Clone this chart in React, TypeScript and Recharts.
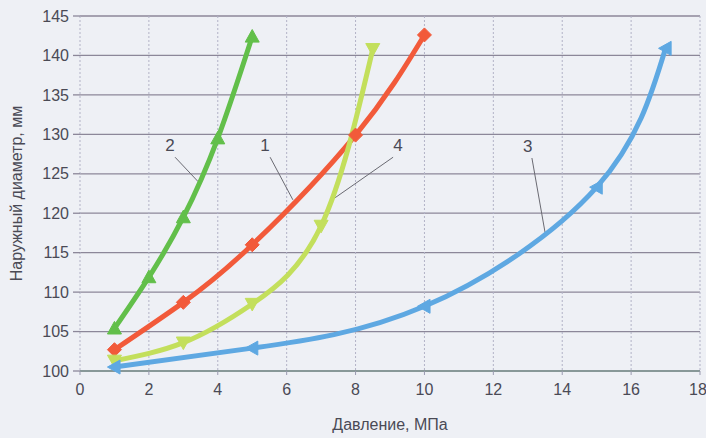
import React from 'react';
import { LineChart, Line, XAxis, YAxis, CartesianGrid, ReferenceLine, ReferenceDot, Label } from 'recharts';

const xTicks = [0, 2, 4, 6, 8, 10, 12, 14, 16, 18];
const yTicks = [100, 105, 110, 115, 120, 125, 130, 135, 140, 145];

const curve1X = [1, 3, 5, 8, 10];
const curve1Y = [102.7, 108.7, 116, 129.9, 142.6];
const curve2X = [1, 2, 3, 4, 5];
const curve2Y = [105.4, 111.9, 119.5, 129.5, 142.4];
const curve3X = [1, 5, 10, 15, 17];
const curve3Y = [100.5, 102.9, 108.2, 123.3, 140.9];
const curve4X = [1, 3, 5, 7, 8.5];
const curve4Y = [101.3, 103.6, 108.5, 118.4, 140.8];

const curveNames = ['1', '2', '3', '4'];
const labelX = [5.37, 2.61, 13.0, 9.23];
const labelY = [128.7, 128.7, 128.5, 128.7];
const leaderFromX = [5.52, 2.76, 13.12, 9.09];
const leaderFromY = [127.1, 127.1, 127.0, 127.1];
const leaderToX = [6.18, 3.43, 13.5, 7.32];
const leaderToY = [121.7, 124.0, 117.6, 121.7];

const zip = (xs: number[], ys: number[]) => xs.map((x, i) => ({ x, y: ys[i] }));

const FONT = '"Liberation Sans Narrow", "Liberation Sans", Arial, sans-serif';

const makeDot = (shape: string, color: string) => (props: any) => {
  const { cx, cy, index } = props;
  if (cx == null || cy == null) return <g key={index} />;
  const s = 7;
  let pts = '';
  if (shape === 'up') pts = `${cx},${cy - s} ${cx + s},${cy + s * 0.8} ${cx - s},${cy + s * 0.8}`;
  else if (shape === 'down') pts = `${cx - s},${cy - s * 0.8} ${cx + s},${cy - s * 0.8} ${cx},${cy + s}`;
  else if (shape === 'left') pts = `${cx - s},${cy} ${cx + s * 0.8},${cy - s} ${cx + s * 0.8},${cy + s}`;
  else pts = `${cx},${cy - s} ${cx + s},${cy} ${cx},${cy + s} ${cx - s},${cy}`;
  return <polygon key={index} points={pts} fill={color} stroke={color} strokeWidth={1} />;
};

const series = [
  { name: '2', data: zip(curve2X, curve2Y), color: '#62bf4a', shape: 'up' },
  { name: '1', data: zip(curve1X, curve1Y), color: '#f25a3a', shape: 'diamond' },
  { name: '4', data: zip(curve4X, curve4Y), color: '#c3df5c', shape: 'down' },
  { name: '3', data: zip(curve3X, curve3Y), color: '#5ea8e2', shape: 'left' },
];

export default function App() {
  return (
    <div style={{ position: 'absolute', left: 0, top: 0, width: 706, height: 438, background: '#eef0f5' }}>
      <LineChart width={706} height={438} margin={{ top: 16, right: 6, bottom: 37, left: 0 }}>
        <CartesianGrid horizontal={true} vertical={false} stroke="#8c8799" strokeWidth={1.3} />
        <CartesianGrid horizontal={false} vertical={true} stroke="#b2b2c6" strokeDasharray="2 2" />
        <XAxis
          type="number"
          dataKey="x"
          domain={[0, 18]}
          ticks={xTicks}
          height={30}
          axisLine={{ stroke: '#7f9690', strokeWidth: 1.3 }}
          tickLine={{ stroke: '#9a9ab0' }}
          tickSize={4}
          tick={{ fill: '#4a4a55', fontSize: 16, fontFamily: FONT }}
          tickMargin={9}
        >
          <Label value="Давление, МПа" position="bottom" offset={18} style={{ fill: '#4a4a55', fontSize: 16, fontFamily: FONT }} />
        </XAxis>
        <YAxis
          type="number"
          domain={[100, 145]}
          ticks={yTicks}
          width={80}
          axisLine={false}
          tickLine={{ stroke: '#8c8799', strokeWidth: 1.3 }}
          tickSize={7}
          tickMargin={4}
          tick={{ fill: '#4a4a55', fontSize: 16, fontFamily: FONT }}
        >
          <Label value="Наружный диаметр, мм" angle={-90} position="insideLeft" offset={16} style={{ fill: '#4a4a55', fontSize: 16, fontFamily: FONT, textAnchor: 'middle' }} />
        </YAxis>
        {curveNames.map((n, i) => (
          <ReferenceLine
            key={'l' + n}
            segment={[{ x: leaderFromX[i], y: leaderFromY[i] }, { x: leaderToX[i], y: leaderToY[i] }]}
            stroke="#6a6a72"
            strokeWidth={1}
          />
        ))}
        {curveNames.map((n, i) => (
          <ReferenceDot
            key={'d' + n}
            x={labelX[i]}
            y={labelY[i]}
            r={0}
            fill="none"
            stroke="none"
            label={{ value: n, position: 'center', fill: '#4a4a55', fontSize: 17, fontFamily: FONT }}
          />
        ))}
        {series.map((s) => (
          <Line
            key={s.name}
            data={s.data}
            dataKey="y"
            type="natural"
            stroke={s.color}
            strokeWidth={5}
            dot={makeDot(s.shape, s.color)}
            activeDot={false}
            isAnimationActive={false}
          />
        ))}
      </LineChart>
    </div>
  );
}
